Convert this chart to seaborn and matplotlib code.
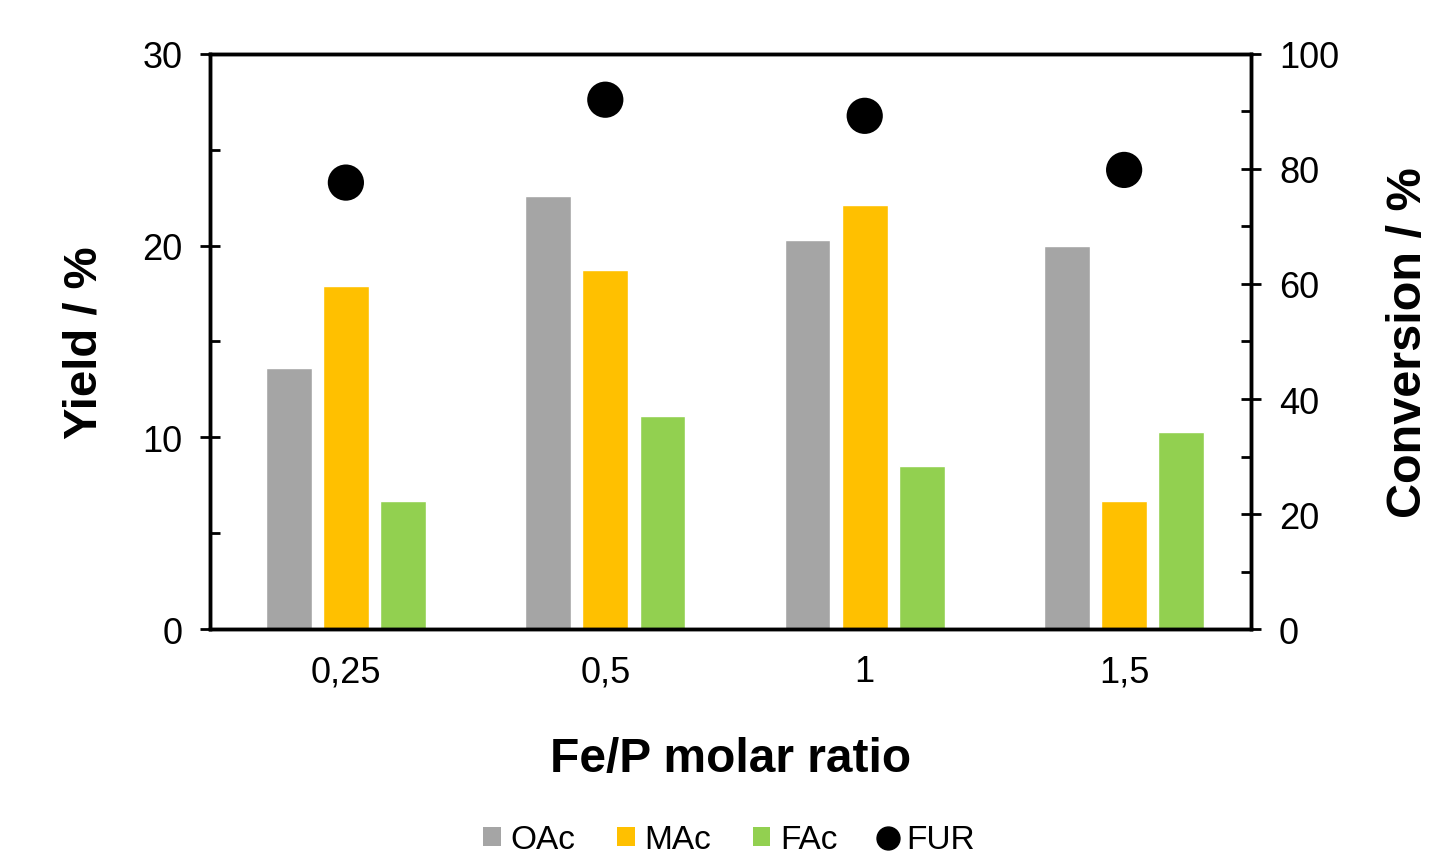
import numpy as np
import pandas as pd
import matplotlib
matplotlib.use("Agg")
import matplotlib.pyplot as plt
import seaborn as sns
from matplotlib.ticker import MultipleLocator
from matplotlib.patches import Patch
from matplotlib.lines import Line2D

ratios = ["0,25", "0,5", "1", "1,5"]
oac = [13.6, 22.6, 20.3, 20.0]
mac = [17.9, 18.7, 22.1, 6.7]
fac = [6.7, 11.1, 8.5, 10.3]
fur = [77.6, 92.0, 89.2, 79.8]

products = ["OAc", "MAc", "FAc"]
colors = ["#A5A5A5", "#FFC000", "#92D050"]

df = pd.DataFrame({"ratio": ratios * 3,
                   "product": np.repeat(products, len(ratios)),
                   "yield": oac + mac + fac})
dfc = pd.DataFrame({"ratio": ratios, "conv": fur})

sns.set_style("white")
plt.rcParams["font.family"] = ["Liberation Sans", "DejaVu Sans"]
plt.rcParams["text.color"] = "black"
plt.rcParams["axes.labelcolor"] = "black"
plt.rcParams["xtick.color"] = "black"
plt.rcParams["ytick.color"] = "black"

fig, ax = plt.subplots(figsize=(14.3, 8.54), dpi=100)
fig.subplots_adjust(left=0.147, right=0.875, top=0.936, bottom=0.262)

sns.barplot(data=df, x="ratio", y="yield", hue="product", palette=colors,
            width=0.66, gap=0.2, ax=ax, saturation=1, legend=False)
ax.set_ylim(0, 30)
ax.set_xlim(-0.523, 3.49)
ax.yaxis.set_major_locator(MultipleLocator(10))
ax.yaxis.set_minor_locator(MultipleLocator(5))
ax.set_ylabel("Yield / %", fontsize=34, fontweight="bold", labelpad=26)
ax.set_xlabel("Fe/P molar ratio", fontsize=34.5, fontweight="bold", labelpad=34)

ax2 = ax.twinx()
sns.scatterplot(data=dfc, x="ratio", y="conv", color="black", s=680,
                edgecolor="none", ax=ax2, legend=False)
ax2.set_xlim(-0.523, 3.49)
ax2.set_ylim(0, 100)
ax2.yaxis.set_major_locator(MultipleLocator(20))
ax2.yaxis.set_minor_locator(MultipleLocator(10))
ax2.set_ylabel("Conversion / %", fontsize=35, fontweight="bold", labelpad=34)

for a in (ax, ax2):
    for s in a.spines.values():
        s.set_linewidth(2.5)
        s.set_color("black")
    a.tick_params(axis="y", which="major", direction="inout", length=14, width=2,
                  labelsize=26, pad=13)
    a.tick_params(axis="y", which="minor", direction="in", length=7, width=2)
    a.tick_params(axis="x", length=0, labelsize=26, pad=18)
ax.yaxis.set_ticks_position("left")
ax2.yaxis.set_ticks_position("right")
ax.tick_params(axis="y", which="both", left=True)
ax2.tick_params(axis="y", which="both", right=True)

handles = [Patch(facecolor=c, edgecolor="none") for c in colors]
handles.append(Line2D([], [], marker="o", color="black", linestyle="none", markersize=16.5))
fig.legend(handles, products + ["FUR"], loc="center", ncol=4,
           bbox_to_anchor=(0.51, 1 - 841 / 854), frameon=False, fontsize=24,
           handlelength=0.52, handleheight=0.52, handletextpad=0.3, columnspacing=1.25)

fig.savefig("out.png", dpi=100)
